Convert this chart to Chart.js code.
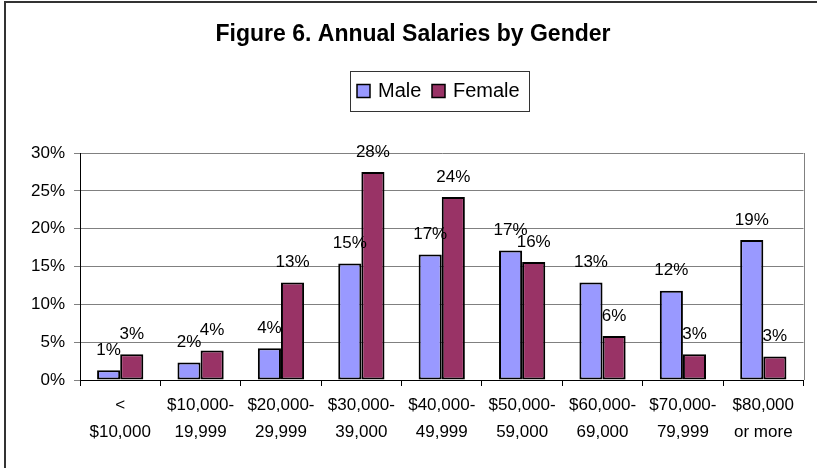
<!DOCTYPE html>
<html>
<head>
<meta charset="utf-8">
<title>Figure 6. Annual Salaries by Gender</title>
<script src="https://cdn.jsdelivr.net/npm/chart.js@4"></script>
<style>
  html, body { margin: 0; padding: 0; background: #fff; }
  canvas { display: block; }
</style>
</head>
<body>
<canvas id="salaryChart" width="817" height="468"></canvas>
<script>
// Salary bands (two-line labels like the original)
const salaryBands = [
  ["<", "$10,000"],
  ["$10,000-", "19,999"],
  ["$20,000-", "29,999"],
  ["$30,000-", "39,000"],
  ["$40,000-", "49,999"],
  ["$50,000-", "59,000"],
  ["$60,000-", "69,000"],
  ["$70,000-", "79,999"],
  ["$80,000", "or more"]
];

// Percent of respondents in each band
const malePct = [1.3, 2.3, 4.2, 15.4, 16.6, 17.1, 12.9, 11.8, 18.5];
const femalePct = [3.4, 3.9, 12.9, 27.5, 24.2, 15.6, 5.8, 3.4, 3.1];

// Y axis ticks
const yMin = 0;
const yMax = 30;
const yStep = 5;

const chartTitle = "Figure 6. Annual Salaries by Gender";
const FONT = "'Liberation Sans', Arial, sans-serif";
const maleColor = "#9999FF";
const femaleColor = "#993366";

// Draws the frame, title, plot border, legend box and value labels
const excelLook = {
  id: "excelLook",
  afterDraw(chart) {
    const ctx = chart.ctx;
    const area = chart.chartArea;
    ctx.save();

    // outer frame (left + top edges)
    ctx.strokeStyle = "#333";
    ctx.lineWidth = 2;
    ctx.beginPath();
    ctx.moveTo(5, 468);
    ctx.lineTo(5, 2);
    ctx.lineTo(817, 2);
    ctx.stroke();

    // title
    ctx.fillStyle = "#000";
    ctx.font = "bold 23px " + FONT;
    ctx.textAlign = "center";
    ctx.textBaseline = "middle";
    ctx.fillText(chartTitle, 413, 35);

    // right side of the plot area
    ctx.strokeStyle = "#808080";
    ctx.lineWidth = 1;
    ctx.beginPath();
    ctx.moveTo(Math.round(area.right) + 0.5, area.top);
    ctx.lineTo(Math.round(area.right) + 0.5, area.bottom);
    ctx.stroke();

    // value labels above bars
    ctx.fillStyle = "#000";
    ctx.font = "17px " + FONT;
    chart.data.datasets.forEach((ds, i) => {
      chart.getDatasetMeta(i).data.forEach((bar, j) => {
        ctx.fillText(Math.round(ds.data[j]) + "%", bar.x, bar.y - 20);
      });
    });

    // legend
    ctx.strokeStyle = "#333";
    ctx.lineWidth = 1;
    ctx.strokeRect(350.5, 71.5, 179, 40);
    const items = [
      { label: "Male", color: maleColor, x: 357 },
      { label: "Female", color: femaleColor, x: 432 }
    ];
    ctx.font = "20px " + FONT;
    ctx.textAlign = "left";
    ctx.textBaseline = "alphabetic";
    items.forEach(it => {
      ctx.fillStyle = it.color;
      ctx.fillRect(it.x, 84.5, 13, 13);
      ctx.strokeStyle = "#000";
      ctx.lineWidth = 1.5;
      ctx.strokeRect(it.x, 84.5, 13, 13);
      ctx.fillStyle = "#000";
      ctx.fillText(it.label, it.x + 21, 97);
    });

    ctx.restore();
  }
};

const ctx = document.getElementById("salaryChart").getContext("2d");
const salaryChart = new Chart(ctx, {
  type: "bar",
  data: {
    labels: salaryBands,
    datasets: [
      {
        label: "Male",
        data: malePct,
        backgroundColor: maleColor,
        borderColor: "#000",
        borderWidth: 2,
        borderSkipped: false
      },
      {
        label: "Female",
        data: femalePct,
        backgroundColor: femaleColor,
        borderColor: "#000",
        borderWidth: 2,
        borderSkipped: false
      }
    ]
  },
  options: {
    responsive: false,
    animation: false,
    devicePixelRatio: 1,
    layout: {
      padding: { left: 0, right: 13.5, top: 153, bottom: 0 }
    },
    datasets: {
      bar: { categoryPercentage: 0.575, barPercentage: 1 }
    },
    plugins: {
      legend: { display: false },
      tooltip: { enabled: false },
      title: { display: false }
    },
    scales: {
      x: {
        grid: {
          display: true,
          drawOnChartArea: false,
          tickLength: 6,
          color: "#000"
        },
        border: { color: "#000", width: 1 },
        ticks: {
          color: "#000",
          font: { family: FONT, size: 17, lineHeight: 1.6 },
          padding: 6,
          maxRotation: 0,
          autoSkip: false
        },
        afterFit(scale) { scale.height = 88; }
      },
      y: {
        min: yMin,
        max: yMax,
        grid: { color: "#808080", tickLength: 6 },
        border: { color: "#000", width: 1 },
        ticks: {
          stepSize: yStep,
          color: "#000",
          font: { family: FONT, size: 17 },
          padding: 9,
          callback: v => v + "%"
        },
        afterFit(scale) { scale.width = 80; }
      }
    }
  },
  plugins: [excelLook]
});
</script>
</body>
</html>
